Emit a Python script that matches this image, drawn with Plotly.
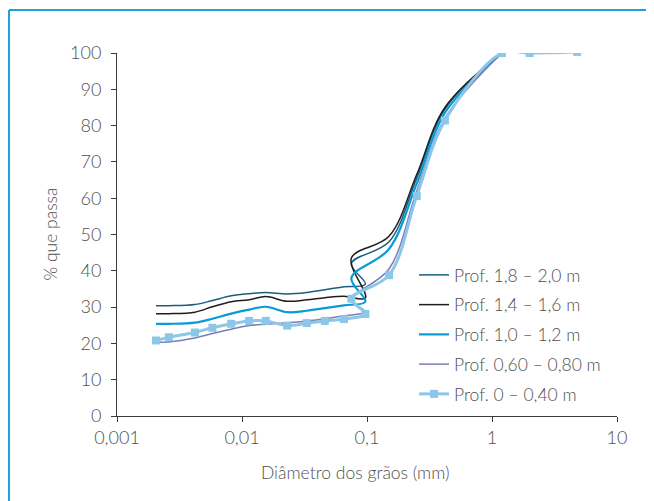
import plotly.graph_objects as go

# ---- data ----
x_sed = [0.00205, 0.0026, 0.0042, 0.0058, 0.0082, 0.0114, 0.0155, 0.023, 0.033, 0.046, 0.0655, 0.097]
x_sieve = [0.075, 0.15, 0.25, 0.42, 1.2]
x_sieve_full = [0.075, 0.15, 0.25, 0.42, 1.2, 2.0, 4.8]

y_18_20_sed = [30.4, 30.4, 30.7, 31.8, 33.1, 33.7, 34.0, 33.6, 34.0, 34.8, 35.6, 36.3]
y_18_20_sieve = [42.0, 48.0, 65.5, 84.5, 100.0]

y_14_16_sed = [28.2, 28.2, 28.6, 30.1, 31.5, 32.0, 32.9, 31.6, 32.0, 32.6, 33.0, 32.5]
y_14_16_sieve = [43.5, 49.5, 66.5, 85.0, 100.0]

y_10_12_sed = [25.4, 25.4, 25.7, 26.8, 28.2, 29.3, 30.1, 28.6, 29.0, 29.7, 30.5, 31.5]
y_10_12_sieve = [38.0, 46.0, 64.0, 83.5, 100.0]

y_06_08_sed = [20.3, 20.4, 21.5, 22.7, 23.9, 24.9, 25.3, 25.7, 26.2, 26.8, 27.6, 28.7]
y_06_08_sieve = [32.0, 40.5, 62.0, 82.0, 100.0]

y_00_04_sed = [20.8, 21.7, 23.0, 24.3, 25.4, 26.2, 26.2, 24.9, 25.6, 26.2, 26.7, 28.1]
y_00_04_sieve = [32.3, 38.8, 60.6, 81.4, 100.0, 100.0, 100.3]

names = ["Prof. 1,8 – 2,0 m", "Prof. 1,4 – 1,6 m", "Prof. 1,0 – 1,2 m",
         "Prof. 0,60 – 0,80 m", "Prof. 0 – 0,40 m"]

x_ticks = [0.001, 0.01, 0.1, 1, 10]
x_ticktext = ["0,001", "0,01", "0,1", "1", "10"]

FONT = "Lato"
TXT = "#505050"

# plot area in figure pixels (page is offset by the 8px body margin)
L, T, W, H = 109, 45, 500, 363
FIG_W, FIG_H = 654, 501

def px_x(p):
    return (p - L) / W

def px_y(p):
    return (T + H - p) / H

fig = go.Figure()

def add_line(x, y, name, color, width):
    fig.add_trace(go.Scatter(
        x=x, y=y, name=name, mode="lines",
        line=dict(color=color, width=width, shape="spline", smoothing=1.0),
        legendgroup=name,
    ))

add_line(x_sed + x_sieve, y_18_20_sed + y_18_20_sieve, names[0], "#1d5d7e", 1.5)
add_line(x_sed + x_sieve, y_14_16_sed + y_14_16_sieve, names[1], "#1e1e1e", 1.5)
add_line(x_sed + x_sieve, y_10_12_sed + y_10_12_sieve, names[2], "#0a9ad6", 2.2)
add_line(x_sed + x_sieve, y_06_08_sed + y_06_08_sieve, names[3], "#7a7db6", 1.5)

fig.add_trace(go.Scatter(
    x=x_sed + x_sieve_full, y=y_00_04_sed + y_00_04_sieve, name=names[4],
    mode="lines+markers",
    line=dict(color="#8cc6e8", width=3, shape="spline", smoothing=1.0),
    marker=dict(symbol="square", size=8, color="#8cc6e8"),
    legendgroup=names[4],
))

axis_common = dict(
    showline=True, linecolor="#3a3a3a", linewidth=1,
    ticks="outside", ticklen=5, tickcolor="#3a3a3a", tickwidth=1,
    showgrid=False, zeroline=False,
    tickfont=dict(family=FONT, size=18, color=TXT, weight=300),
)

fig.update_layout(
    width=FIG_W, height=FIG_H,
    margin=dict(l=L, r=FIG_W - L - W, t=T, b=FIG_H - T - H),
    paper_bgcolor="white", plot_bgcolor="white",
    font=dict(family=FONT, color=TXT, weight=300),
    showlegend=True,
    legend=dict(
        x=px_x(406), y=px_y(249), xanchor="left", yanchor="top",
        font=dict(family=FONT, size=17.5, color=TXT, weight=300),
        bgcolor="rgba(0,0,0,0)", tracegroupgap=4, traceorder="grouped",
        itemwidth=30,
    ),
    xaxis=dict(type="log", range=[-3, 1], tickvals=x_ticks, ticktext=x_ticktext, **axis_common),
    yaxis=dict(range=[0, 100], dtick=10, tick0=0, ticklabelstandoff=6, **axis_common),
    annotations=[
        dict(text="% que passa", textangle=-90, xref="paper", yref="paper",
             x=px_x(42), y=0.5, xanchor="center", yanchor="middle", showarrow=False,
             font=dict(family=FONT, size=17.5, color=TXT, weight=300)),
        dict(text="Diâmetro dos grãos (mm)", xref="paper", yref="paper",
             x=px_x(347), y=px_y(464), xanchor="center", yanchor="middle", showarrow=False,
             font=dict(family=FONT, size=17.5, color=TXT, weight=300)),
    ],
    shapes=[
        dict(type="line", xref="paper", yref="paper",
             x0=px_x(1), x1=px_x(FIG_W + 10), y0=px_y(2), y1=px_y(2),
             line=dict(color="#1ea2dc", width=2)),
        dict(type="line", xref="paper", yref="paper",
             x0=px_x(1), x1=px_x(1), y0=px_y(2), y1=px_y(FIG_H + 10),
             line=dict(color="#1ea2dc", width=2)),
    ],
)

fig.write_html("out.html")
